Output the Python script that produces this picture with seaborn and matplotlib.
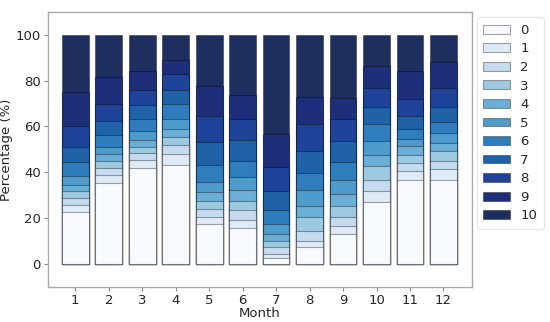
import matplotlib
matplotlib.use("Agg")
import matplotlib.pyplot as plt
from matplotlib.patches import Patch
import numpy as np
import pandas as pd
import seaborn as sns

months = [1, 2, 3, 4, 5, 6, 7, 8, 9, 10, 11, 12]
levels = ["0", "1", "2", "3", "4", "5", "6", "7", "8", "9", "10"]

# percentage of each level per month (rows = months, cols = levels 0..10)
pct_m1 = [22.8, 2.9, 3.1, 2.9, 2.9, 3.6, 6.5, 6.4, 9.3, 14.6, 25.0]
pct_m2 = [35.3, 3.7, 2.9, 2.9, 3.2, 2.9, 5.2, 6.2, 7.3, 12.2, 18.2]
pct_m3 = [41.9, 3.6, 3.0, 2.6, 2.9, 4.0, 5.1, 6.2, 6.6, 8.3, 15.8]
pct_m4 = [43.4, 4.6, 3.8, 3.5, 3.7, 4.1, 6.5, 6.5, 6.7, 6.1, 11.1]
pct_m5 = [17.4, 3.3, 3.2, 3.4, 3.9, 4.6, 7.6, 9.9, 11.2, 13.2, 22.3]
pct_m6 = [15.6, 3.7, 4.1, 4.3, 4.7, 5.4, 7.3, 8.8, 9.2, 10.6, 26.3]
pct_m7 = [2.8, 1.7, 2.7, 2.9, 3.0, 4.3, 6.2, 8.1, 10.5, 14.6, 43.2]
pct_m8 = [7.2, 2.9, 4.4, 5.8, 5.1, 7.0, 7.3, 9.8, 11.8, 11.5, 27.2]
pct_m9 = [13.0, 3.4, 3.9, 4.8, 5.6, 6.1, 7.7, 9.1, 9.5, 9.5, 27.4]
pct_m10 = [27.0, 4.7, 5.1, 5.8, 5.1, 5.9, 7.3, 7.7, 8.3, 9.5, 13.6]
pct_m11 = [36.5, 3.9, 3.7, 3.6, 3.7, 3.2, 4.4, 5.5, 7.3, 12.4, 15.8]
pct_m12 = [36.8, 4.7, 3.6, 4.1, 3.6, 4.4, 4.7, 6.6, 8.4, 11.4, 11.7]

table = np.array([pct_m1, pct_m2, pct_m3, pct_m4, pct_m5, pct_m6,
                  pct_m7, pct_m8, pct_m9, pct_m10, pct_m11, pct_m12])

colors = ["#f7fbff", "#deebf7", "#c6dbef", "#9ecae1", "#6baed6", "#4f9bcb",
          "#2f7dbc", "#1f62a8", "#1e4399", "#1d2f7a", "#1e2f5f"]

sns.set_theme(style="white")
plt.rcParams['font.family'] = ['DejaVu Sans']

fig = plt.figure(figsize=(5.5, 3.22), dpi=100)
ax = fig.add_axes([0.087, 0.109, 0.771, 0.854])

cum = np.cumsum(table, axis=1)
edge = (0, 0, 0, 0.35)
for j in range(len(levels) - 1, -1, -1):
    df = pd.DataFrame({"Month": [str(m) for m in months], "value": cum[:, j]})
    sns.barplot(data=df, x="Month", y="value", color=colors[j], ax=ax,
                width=0.8, edgecolor=edge, linewidth=0.8, saturation=1,
                errorbar=None)

ax.set_xlim(-0.82, 11.85)
ax.set_ylim(-10, 110)
ax.set_yticks([0, 20, 40, 60, 80, 100])
ax.set_xlabel("Month", fontsize=9.5, labelpad=0)
ax.set_ylabel("Percentage (%)", fontsize=9.5)
ax.yaxis.set_label_coords(-0.083, 0.5)
ax.tick_params(axis="both", labelsize=9.5, length=3, width=0.8,
               color="#888888", direction="out", bottom=True, left=True, pad=2)
for s in ax.spines.values():
    s.set_color("#aaaaaa")
    s.set_linewidth(1.0)

handles = [Patch(facecolor=colors[i], edgecolor=edge, linewidth=0.8) for i in range(len(levels))]
leg = ax.legend(handles, levels, loc="upper left", bbox_to_anchor=(1.005, 0.99),
                fontsize=9.5, frameon=True, handlelength=2.0, handleheight=0.65,
                borderaxespad=0.2, labelspacing=0.42, handletextpad=0.8,
                borderpad=0.5)
leg.get_frame().set_edgecolor("#e0e0e0")

fig.savefig("out.png", dpi=100)
